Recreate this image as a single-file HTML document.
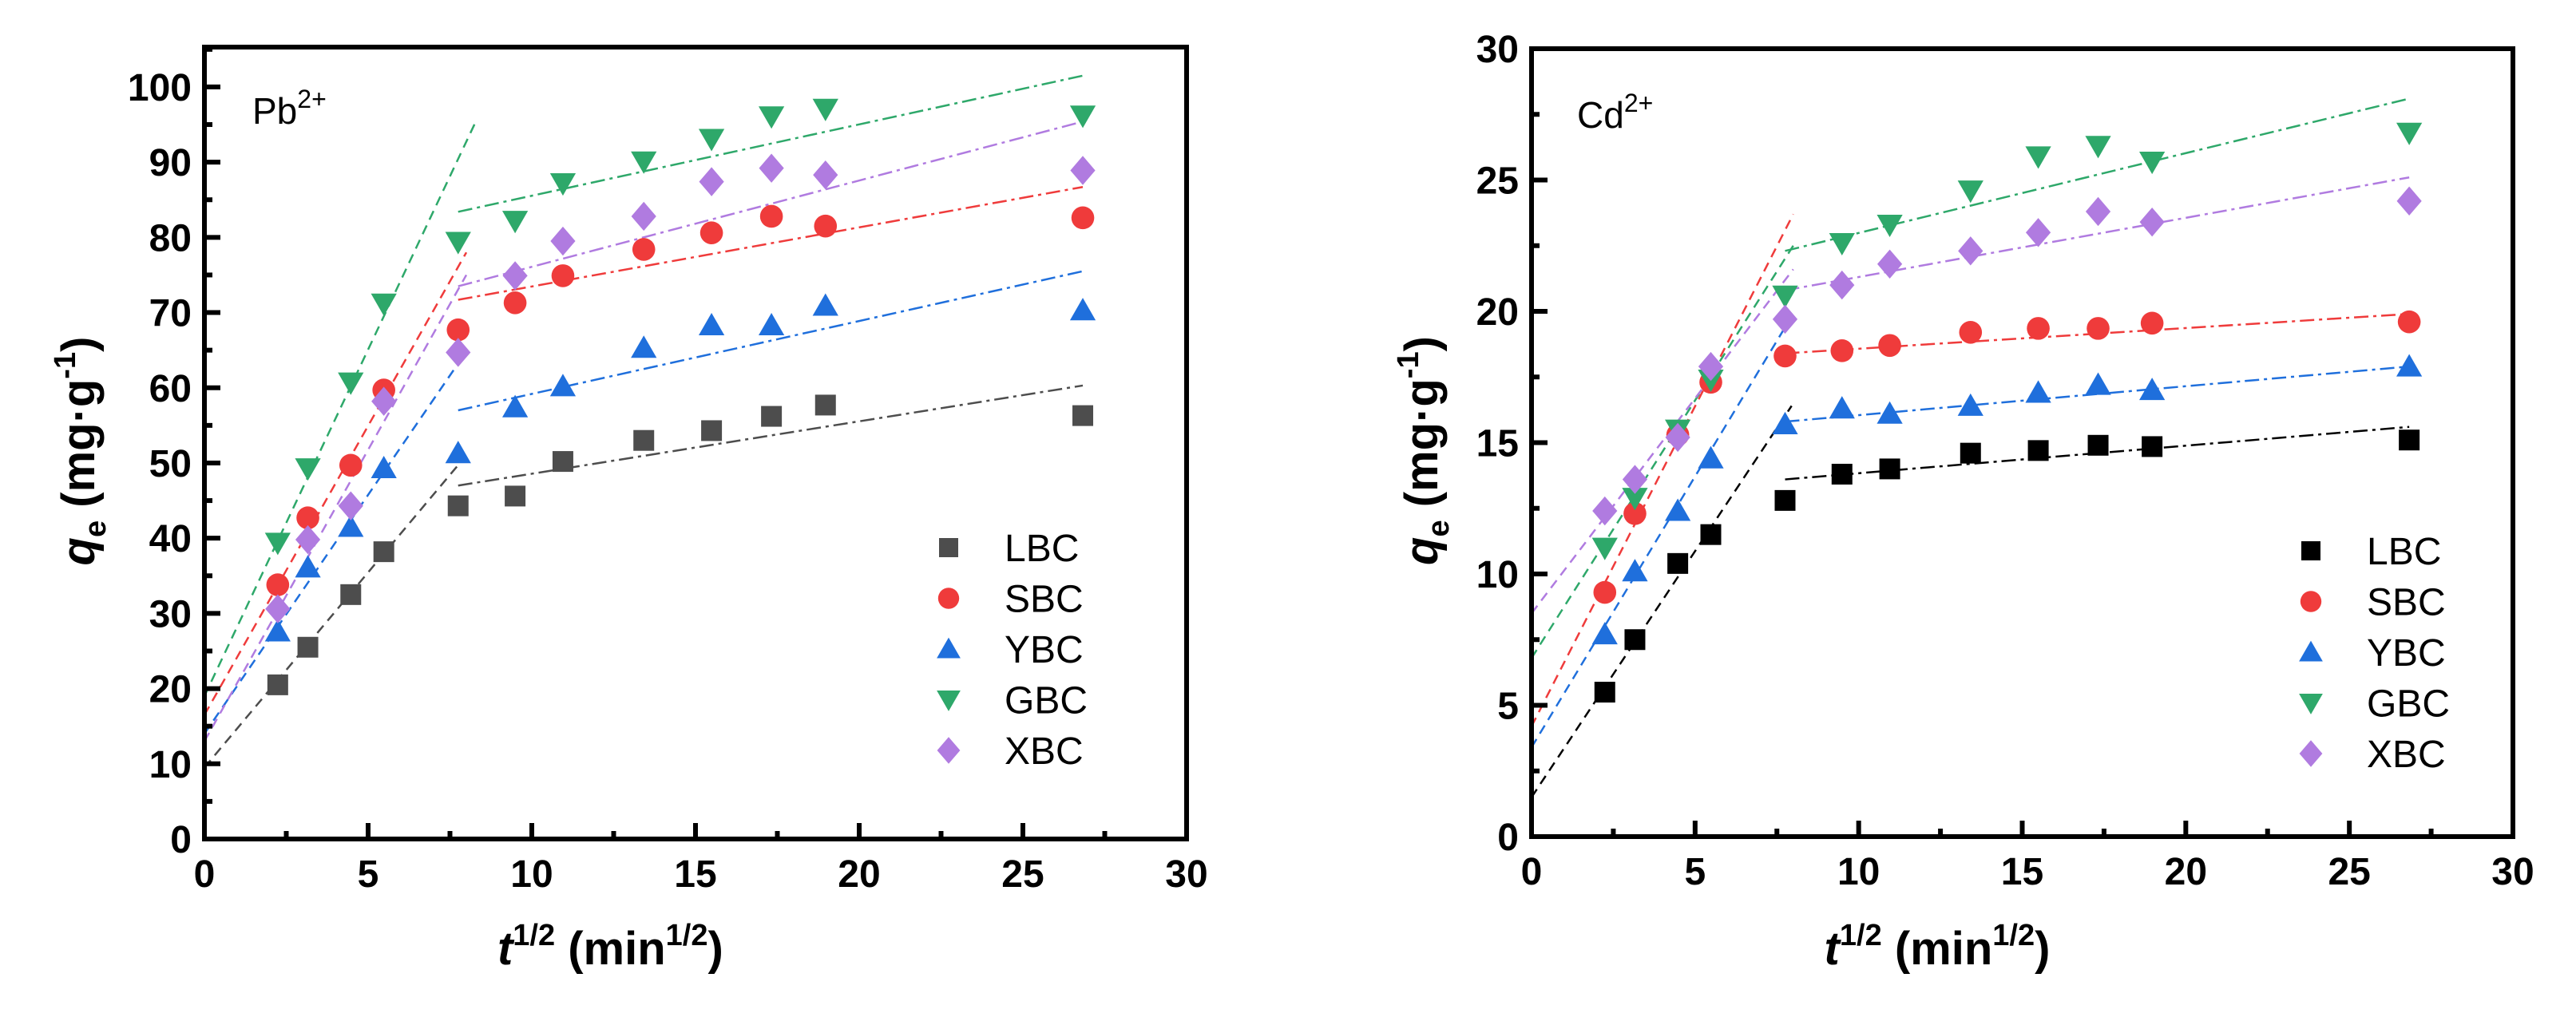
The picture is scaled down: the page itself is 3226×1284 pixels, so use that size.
<!DOCTYPE html>
<html><head><meta charset="utf-8"><style>
html,body{margin:0;padding:0;background:#fff;}
svg text{font-family:"Liberation Sans",Arial,sans-serif;}
</style></head><body>
<svg id="chart" width="3226" height="1279" viewBox="0 0 3226 1279" xmlns="http://www.w3.org/2000/svg"></svg>
<script>
const xs = [2.24, 3.16, 4.47, 5.48, 7.75, 9.49, 10.95, 13.42, 15.49, 17.32, 18.97, 26.83];
const seriesNames = ["LBC", "SBC", "YBC", "GBC", "XBC"];
// Pb2+ panel values
const pbLBC = [20.5, 25.5, 32.5, 38.2, 44.3, 45.6, 50.2, 53.0, 54.3, 56.2, 57.7, 56.3];
const pbSBC = [33.8, 42.7, 49.7, 59.7, 67.7, 71.3, 74.9, 78.4, 80.6, 82.8, 81.5, 82.6];
const pbYBC = [27.6, 36.1, 41.5, 49.3, 51.3, 57.4, 60.2, 65.3, 68.3, 68.3, 70.9, 70.3];
const pbGBC = [39.4, 49.3, 60.7, 71.2, 79.4, 82.2, 87.2, 90.1, 93.1, 96.1, 97.1, 96.2];
const pbXBC = [30.6, 39.8, 44.3, 58.2, 64.7, 74.9, 79.5, 82.8, 87.4, 89.2, 88.3, 88.9];
// Pb fit lines: stage 1 [x0,y0,x1,y1], stage 2 [x0,y0,x1,y1]
const pbFit1 = [[0,9.5,7.9,50.5],[0,16.5,8.0,78.0],[0,14.0,7.95,64.5],[0,19.0,8.3,95.5],[0,13.0,8.0,75.0]];
const pbFit2 = [[7.75,47.0,26.83,60.3],[7.75,71.7,26.83,86.7],[7.75,57.0,26.83,75.5],[7.75,83.4,26.83,101.5],[7.75,73.5,26.83,95.4]];
// Cd2+ panel values
const cdLBC = [5.5, 7.5, 10.4, 11.5, 12.8, 13.8, 14.0, 14.6, 14.7, 14.9, 14.85, 15.1];
const cdSBC = [9.3, 12.3, 15.3, 17.3, 18.3, 18.5, 18.7, 19.2, 19.35, 19.35, 19.55, 19.6];
const cdYBC = [7.7, 10.1, 12.4, 14.4, 15.7, 16.3, 16.1, 16.4, 16.9, 17.2, 17.0, 17.9];
const cdGBC = [11.0, 12.9, 15.5, 17.4, 20.6, 22.6, 23.3, 24.6, 25.9, 26.3, 25.7, 26.8];
const cdXBC = [12.4, 13.6, 15.2, 17.9, 19.7, 21.0, 21.8, 22.3, 23.0, 23.8, 23.4, 24.2];
const cdFit1 = [[0,1.5,7.95,16.4],[0,4.2,8.0,23.7],[0,3.4,7.9,19.7],[0,6.8,8.0,22.5],[0,8.5,8.0,21.6]];
const cdFit2 = [[7.75,13.6,26.83,15.6],[7.75,18.4,26.83,19.9],[7.75,15.8,26.83,17.9],[7.75,22.3,26.83,28.1],[7.75,20.8,26.83,25.1]];
const xTicks = [0, 5, 10, 15, 20, 25, 30];
const pbYTicks = [0, 10, 20, 30, 40, 50, 60, 70, 80, 90, 100];
const cdYTicks = [0, 5, 10, 15, 20, 25, 30];

const NS = "http://www.w3.org/2000/svg";
const svg = document.getElementById("chart");
function mk(tag, attrs, parent) {
  const e = document.createElementNS(NS, tag);
  for (const k in attrs) e.setAttribute(k, attrs[k]);
  (parent || svg).appendChild(e);
  return e;
}
const colorsPb = ["#4d4d4d", "#ef3b3b", "#1f6fdc", "#2ea86a", "#b07be0"];
const colorsCd = ["#000000", "#ef3b3b", "#1f6fdc", "#2ea86a", "#b07be0"];
const shapes = ["square", "circle", "up", "down", "diamond"];

function marker(g, shape, cx, cy, color, s) {
  let e;
  if (shape === "square") e = mk("rect", {x: cx - s/2, y: cy - s/2, width: s, height: s, fill: color}, g);
  else if (shape === "circle") e = mk("circle", {cx: cx, cy: cy, r: s*0.55, fill: color}, g);
  else if (shape === "up") e = mk("polygon", {points: `${cx},${cy-s*0.6} ${cx-s*0.62},${cy+s*0.48} ${cx+s*0.62},${cy+s*0.48}`, fill: color}, g);
  else if (shape === "down") e = mk("polygon", {points: `${cx},${cy+s*0.6} ${cx-s*0.62},${cy-s*0.48} ${cx+s*0.62},${cy-s*0.48}`, fill: color}, g);
  else e = mk("polygon", {points: `${cx},${cy-s*0.7} ${cx+s*0.6},${cy} ${cx},${cy+s*0.7} ${cx-s*0.6},${cy}`, fill: color}, g);
  return e;
}

function panel(cfg) {
  const g = mk("g", {});
  
  
  const X = v => cfg.x0 + (v - 0) / 30 * (cfg.x1 - cfg.x0);
  const Y = v => cfg.y0 - v / cfg.ymax * (cfg.y0 - cfg.yTop);
  // fit lines
  cfg.fit1.forEach((f, i) => {
    const l = mk("line", {x1: X(f[0]), y1: Y(f[1]), x2: X(f[2]), y2: Y(f[3]), stroke: cfg.colors[i], "stroke-width": 2.5, "stroke-dasharray": "12 8"}, g);
    
    
  });
  cfg.fit2.forEach((f, i) => {
    const l = mk("line", {x1: X(f[0]), y1: Y(f[1]), x2: X(f[2]), y2: Y(f[3]), stroke: cfg.colors[i], "stroke-width": 2.5, "stroke-dasharray": "18 6 4 6"}, g);
    
    
  });
  // points
  cfg.series.forEach((arr, i) => {
    const sg = mk("g", {}, g);
    
    
    arr.forEach((v, j) => {
      const m = marker(sg, shapes[i], X(xs[j]), Y(v), cfg.colors[i], 26);
      
      
    });
  });
  // axes frame
  const fr = mk("rect", {x: cfg.x0, y: cfg.yTop, width: cfg.x1 - cfg.x0, height: cfg.y0 - cfg.yTop, fill: "none", stroke: "#000", "stroke-width": 6}, g);
  
  
  // x ticks
  for (let v = 0; v <= 30; v += 2.5) {
    const major = v % 5 === 0;
    mk("line", {x1: X(v), y1: cfg.y0, x2: X(v), y2: cfg.y0 - (major ? 20 : 10), stroke: "#000", "stroke-width": 6}, g);
  }
  xTicks.forEach(v => {
    const t = mk("text", {x: X(v), y: cfg.y0 + 60, "text-anchor": "middle", "font-size": 48, "font-weight": "bold"}, g);
    t.textContent = v;
    
    
  });
  // y ticks
  const step = cfg.yTicks[1] - cfg.yTicks[0];
  for (let v = 0; v <= cfg.ymax + 1e-9; v += step / 2) {
    const major = Math.abs(v / step - Math.round(v / step)) < 1e-6;
    mk("line", {x1: cfg.x0, y1: Y(v), x2: cfg.x0 + (major ? 20 : 10), y2: Y(v), stroke: "#000", "stroke-width": 6}, g);
  }
  cfg.yTicks.forEach(v => {
    const t = mk("text", {x: cfg.x0 - 16, y: Y(v) + 17, "text-anchor": "end", "font-size": 48, "font-weight": "bold"}, g);
    t.textContent = v;
    
    
  });
  // ion label
  const il = mk("text", {x: cfg.ionX, y: cfg.ionY, "font-size": 46}, g);
  il.innerHTML = cfg.ion + '<tspan font-size="32" dy="-20">2+</tspan>';
  
  
  // x title
  const xt = mk("text", {x: X(12.4), y: 1208, "text-anchor": "middle", "font-size": 58, "font-weight": "bold"}, g);
  xt.innerHTML = '<tspan font-style="italic">t</tspan><tspan font-size="38" dy="-24">1/2</tspan><tspan dy="24"> (min</tspan><tspan font-size="38" dy="-24">1/2</tspan><tspan dy="24">)</tspan>';
  
  
  // y title
  const yt = mk("text", {x: 0, y: 0, "text-anchor": "middle", "font-size": 58, "font-weight": "bold", transform: `translate(${cfg.ytX},${(cfg.y0 + cfg.yTop) / 2 + 10}) rotate(-90)`}, g);
  yt.innerHTML = '<tspan font-style="italic">q</tspan><tspan font-size="38" dy="14">e</tspan><tspan dy="-14"> (mg·g</tspan><tspan font-size="38" dy="-24">-1</tspan><tspan dy="24">)</tspan>';
  
  
  // legend
  const lg = mk("g", {}, g);
  
  
  seriesNames.forEach((n, i) => {
    const yy = cfg.legY + i * 63.5;
    const e = mk("g", {}, lg);
    
    
    marker(e, shapes[i], cfg.legX, yy, cfg.colors[i], 24);
    const t = mk("text", {x: cfg.legX + 70, y: yy + 17, "font-size": 48}, e);
    t.textContent = n;
  });
}

panel({name: "pb-panel", x0: 256, x1: 1486, y0: 1051, yTop: 59, ymax: 105.3, yTicks: pbYTicks,
  series: [pbLBC, pbSBC, pbYBC, pbGBC, pbXBC], fit1: pbFit1, fit2: pbFit2, colors: colorsPb,
  ion: "Pb", ionX: 316, ionY: 155, ytX: 118, legX: 1188, legY: 686});
panel({name: "cd-panel", x0: 1918, x1: 3147, y0: 1048, yTop: 61, ymax: 30, yTicks: cdYTicks,
  series: [cdLBC, cdSBC, cdYBC, cdGBC, cdXBC], fit1: cdFit1, fit2: cdFit2, colors: colorsCd,
  ion: "Cd", ionX: 1975, ionY: 160, ytX: 1800, legX: 2894, legY: 690});
</script>
</body></html>
